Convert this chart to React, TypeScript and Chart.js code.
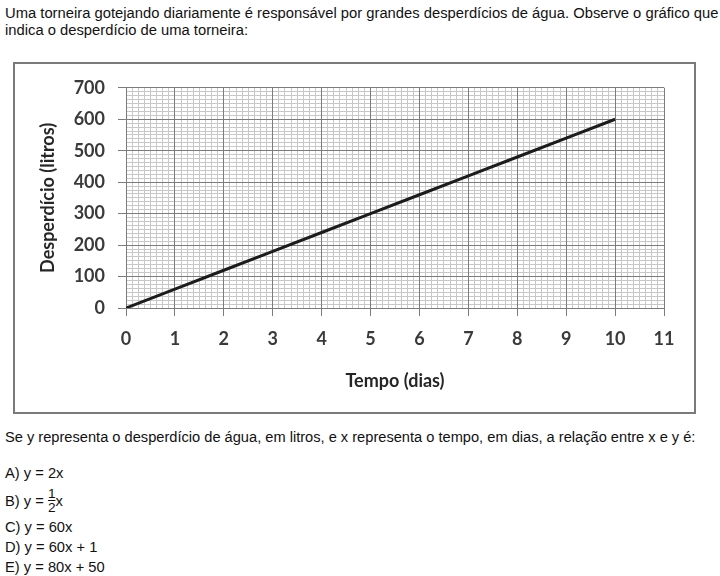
import React, { useEffect, useRef } from "react";
import { Chart, registerables } from "chart.js";
Chart.register(...registerables);

const days = [0, 1, 2, 3, 4, 5, 6, 7, 8, 9, 10];
const wasteLitres = [0, 60, 120, 180, 240, 300, 360, 420, 480, 540, 600];
const xTickValues = [0, 1, 2, 3, 4, 5, 6, 7, 8, 9, 10, 11];
const yTickValues = [0, 100, 200, 300, 400, 500, 600, 700];
const xTitle = "Tempo (dias)";
const yTitle = "Desperdício (litros)";

const introLine1 =
  "Uma torneira gotejando diariamente é responsável por grandes desperdícios de água. Observe o gráfico que";
const introLine2 = "indica o desperdício de uma torneira:";
const question =
  "Se y representa o desperdício de água, em litros, e x representa o tempo, em dias, a relação entre x e y é:";

const MAJOR = "#7c7c7c";
const MINOR = "#c8c8c8";
const TICKFONT = { family: "Lato", size: 18, weight: "bold" as const };

function ChartBox() {
  const ref = useRef<HTMLCanvasElement>(null);
  useEffect(() => {
    if (!ref.current) return;
    const chart = new Chart(ref.current, {
      type: "line",
      data: {
        datasets: [
          {
            data: days.map((d, i) => ({ x: d, y: wasteLitres[i] })),
            borderColor: "#1c1c1c",
            borderWidth: 3,
            pointRadius: 0,
            tension: 0,
            xAxisID: "x",
            yAxisID: "y",
          },
        ],
      },
      options: {
        animation: false,
        responsive: false,
        events: [],
        layout: { padding: { left: 0, right: 30, top: 20, bottom: 0 } },
        plugins: { legend: { display: false }, tooltip: { enabled: false } },
        scales: {
          xm: {
            type: "linear",
            position: "bottom",
            min: 0,
            max: 11,
            z: -2,
            ticks: { display: false, stepSize: 0.125, autoSkip: false, maxTicksLimit: 1000 },
            grid: { color: MINOR, lineWidth: 1, drawTicks: false },
            border: { display: false },
            afterFit: (s: any) => { s.height = 0; },
          },
          ym: {
            type: "linear",
            position: "left",
            min: 0,
            max: 700,
            z: -2,
            ticks: { display: false, stepSize: 12.5, autoSkip: false, maxTicksLimit: 1000 },
            grid: { color: MINOR, lineWidth: 1, drawTicks: false },
            border: { display: false },
            afterFit: (s: any) => { s.width = 0; },
          },
          x: {
            type: "linear",
            position: "bottom",
            min: 0,
            max: 11,
            z: -1,
            afterBuildTicks: (s: any) => { s.ticks = xTickValues.map((v) => ({ value: v })); },
            ticks: { autoSkip: false, maxRotation: 0, padding: 12, color: "#3a3a3a", font: TICKFONT },
            grid: { color: MAJOR, lineWidth: 1, tickLength: 8, tickColor: MAJOR },
            border: { color: MAJOR, width: 1 },
            title: {
              display: true,
              text: xTitle,
              color: "#262626",
              font: TICKFONT,
              padding: { top: 0, bottom: 20 },
            },
            afterFit: (s: any) => { s.height = 104; },
          },
          y: {
            type: "linear",
            position: "left",
            min: 0,
            max: 700,
            z: -1,
            afterBuildTicks: (s: any) => { s.ticks = yTickValues.map((v) => ({ value: v })); },
            ticks: { autoSkip: false, padding: 13, color: "#3a3a3a", font: TICKFONT },
            grid: { color: MAJOR, lineWidth: 1, tickLength: 8, tickColor: MAJOR },
            border: { color: MAJOR, width: 1 },
            title: {
              display: true,
              text: yTitle,
              color: "#262626",
              font: TICKFONT,
              padding: { top: 22, bottom: 0 },
            },
            afterFit: (s: any) => { s.width = 111; },
          },
        },
      },
    });
    return () => chart.destroy();
  }, []);
  return <canvas ref={ref} width={679} height={348} style={{ display: "block" }} />;
}

const textStyle: React.CSSProperties = {
  position: "absolute",
  fontFamily: "'Liberation Sans', Arial, sans-serif",
  fontSize: 14,
  color: "#111",
  lineHeight: "18px",
  whiteSpace: "nowrap",
  transformOrigin: "0 0",
  transform: "scaleX(1.05)",
};

export default function App() {
  return (
    <div style={{ position: "absolute", left: 0, top: 0, width: 720, height: 576, background: "#fff", overflow: "hidden" }}>
      <div style={{ ...textStyle, left: 5, top: 5, lineHeight: "17px", transform: "scaleX(1.055)" }}>
        {introLine1}
        <br />
        {introLine2}
      </div>
      <div
        style={{
          position: "absolute",
          left: 13,
          top: 62,
          width: 679,
          height: 348,
          border: "2px solid #7a7a7a",
          background: "#fff",
        }}
      >
        <ChartBox />
      </div>
      <div style={{ ...textStyle, left: 5, top: 428, transform: "scaleX(1.045)" }}>{question}</div>
      <div style={{ ...textStyle, left: 5, top: 464 }}>A) y = 2x</div>
      <div style={{ ...textStyle, left: 5, top: 487, display: "flex", alignItems: "center" }}>
        <span>B) y =&nbsp;</span>
        <span style={{ display: "inline-flex", flexDirection: "column", alignItems: "center", fontSize: 13, lineHeight: "13px" }}>
          <span>1</span>
          <span style={{ borderTop: "1px solid #111", width: 7, height: 0 }} />
          <span>2</span>
        </span>
        <span>x</span>
      </div>
      <div style={{ ...textStyle, left: 5, top: 518 }}>C) y = 60x</div>
      <div style={{ ...textStyle, left: 5, top: 538 }}>D) y = 60x + 1</div>
      <div style={{ ...textStyle, left: 5, top: 558 }}>E) y = 80x + 50</div>
    </div>
  );
}
